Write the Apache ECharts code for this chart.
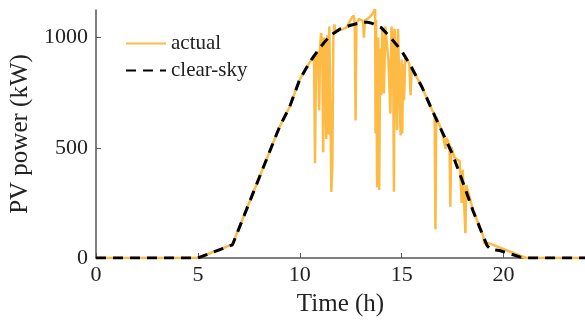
<!DOCTYPE html>
<html>
<head>
<meta charset="utf-8">
<script src="https://cdn.jsdelivr.net/npm/echarts@6/dist/echarts.min.js"></script>
<style>
  html, body { margin: 0; padding: 0; background: #fff; }
  #chart { width: 585px; height: 328px; }
</style>
</head>
<body>
<div id="chart"></div>
<script>
// clear-sky curve (h, kW)
const clearTime = [0, 5, 6.7, 8, 9, 9.5, 10, 10.5, 11, 11.5, 12, 12.5, 13, 13.3, 13.5, 14, 14.5, 15, 15.5, 16, 16.5, 17, 17.5, 18, 18.5, 19, 19.2, 19.4, 19.8, 20.3, 20.8, 21, 24];
const clearPower = [0, 0, 60, 362, 593, 685, 810, 890, 955, 1010, 1040, 1056, 1068, 1070, 1066, 1045, 995, 940, 862, 775, 670, 570, 470, 345, 215, 100, 55, 38, 34, 20, 5, 0, 0];

// measured output (h, kW)
const actualTime = [0, 5, 6.7, 8, 9, 9.5, 10, 10.5, 10.6, 10.7, 10.75, 10.8, 10.85, 10.9, 10.95, 11.0, 11.05, 11.1, 11.15, 11.2, 11.25, 11.3, 11.35, 11.4, 11.45, 11.5, 11.55, 11.6, 11.65, 11.7, 11.75, 11.8, 12.0, 12.3, 12.55, 12.65, 12.7, 12.74, 12.78, 12.9, 13.1, 13.15, 13.2, 13.4, 13.55, 13.7, 13.72, 13.75, 13.8, 13.85, 13.9, 13.95, 14.0, 14.05, 14.13, 14.2, 14.28, 14.35, 14.45, 14.5, 14.58, 14.62, 14.66, 14.7, 14.78, 14.82, 14.87, 14.95, 15.0, 15.03, 15.08, 15.12, 15.18, 15.28, 15.38, 15.44, 15.5, 15.6, 16.0, 16.5, 16.62, 16.66, 16.7, 17.0, 17.15, 17.2, 17.35, 17.39, 17.43, 17.6, 17.75, 17.85, 17.95, 18.0, 18.13, 18.17, 18.3, 18.5, 18.8, 19.0, 19.05, 19.15, 19.4, 21.1, 24];
const actualPower = [0, 0, 62, 362, 593, 685, 810, 890, 905, 920, 430, 930, 880, 940, 670, 960, 1020, 980, 480, 1000, 900, 540, 1010, 560, 1050, 700, 300, 420, 1000, 1060, 1020, 1030, 1035, 1045, 1090, 1100, 1060, 624, 1060, 1085, 1075, 1000, 1078, 1090, 1105, 1130, 565, 1080, 321, 1000, 308, 950, 738, 1040, 746, 1050, 1054, 900, 655, 1050, 980, 300, 1040, 1046, 580, 1040, 1032, 556, 900, 565, 880, 715, 920, 900, 880, 738, 870, 845, 775, 670, 650, 130, 640, 570, 495, 545, 515, 232, 505, 455, 445, 440, 250, 400, 112, 330, 290, 215, 150, 100, 66, 70, 63, 0, 0];

const xTicks = [0, 5, 10, 15, 20];
const yTicks = [0, 500, 1000];

const zip = (xs, ys) => xs.map((x, i) => [x, ys[i]]);

const chart = echarts.init(document.getElementById('chart'));
const font = 'Liberation Serif';
const axisColor = '#555';

const option = {
  animation: false,
  textStyle: { fontFamily: font },
  grid: { left: 96, right: 0, top: 10, bottom: 70, outerBoundsMode: 'none', containLabel: false },
  legend: {
    orient: 'vertical',
    left: 120,
    top: 28,
    itemWidth: 40,
    itemHeight: 12,
    itemGap: 6,
    itemStyle: { opacity: 0 },
    textStyle: { fontFamily: font, fontSize: 21, color: '#222' },
    data: ['actual', 'clear-sky']
  },
  xAxis: {
    type: 'value',
    min: 0,
    max: 24,
    name: 'Time (h)',
    nameLocation: 'middle',
    nameGap: 34,
    nameTextStyle: { fontFamily: font, fontSize: 25, color: '#222' },
    axisLine: { show: true, lineStyle: { color: axisColor, width: 1.5 } },
    axisTick: { show: true, inside: true, length: 5, customValues: xTicks, lineStyle: { color: axisColor } },
    axisLabel: { customValues: xTicks, margin: 6, fontFamily: font, fontSize: 22, color: '#222', formatter: (v) => String(v) },
    splitLine: { show: false }
  },
  yAxis: {
    type: 'value',
    min: 0,
    max: 1125,
    name: 'PV power (kW)',
    nameLocation: 'middle',
    nameGap: 62,
    nameTextStyle: { fontFamily: font, fontSize: 25, color: '#222' },
    axisLine: { show: true, lineStyle: { color: axisColor, width: 1.5 } },
    axisTick: { show: true, inside: true, length: 5, customValues: yTicks, lineStyle: { color: axisColor } },
    axisLabel: { customValues: yTicks, margin: 8, fontFamily: font, fontSize: 22, color: '#222', formatter: (v) => String(v) },
    splitLine: { show: false }
  },
  series: [
    {
      name: 'actual',
      type: 'line',
      data: zip(actualTime, actualPower),
      symbol: 'none',
      lineStyle: { color: '#FDBA45', width: 2.5 },
      itemStyle: { color: '#FDBA45' },
      z: 2
    },
    {
      name: 'clear-sky',
      type: 'line',
      data: zip(clearTime, clearPower),
      symbol: 'none',
      lineStyle: { color: '#000', width: 3, type: [10, 7] },
      itemStyle: { color: '#000' },
      z: 3
    }
  ]
};

chart.setOption(option);
</script>
</body>
</html>
